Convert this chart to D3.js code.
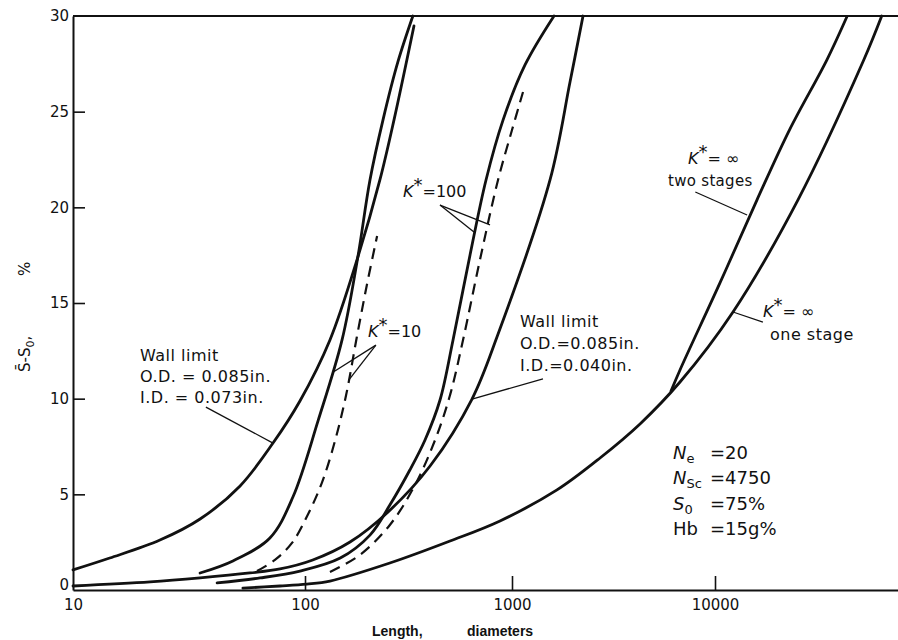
<!DOCTYPE html>
<html>
<head>
<meta charset="utf-8">
<script src="https://cdn.jsdelivr.net/npm/d3@7"></script>
<style>
  body { margin: 0; background: #fff; }
  svg { display: block; }
  text { font-family: "DejaVu Sans", sans-serif; fill: #111; }
</style>
</head>
<body>
<svg width="898" height="640"></svg>
<script>
// curves: [length in diameters, S-S0 in %]
var wall073 = [[10,1.05],[14.4,1.67],[23.7,2.61],[35.3,3.71],[52.5,5.44],[72.8,7.68],[95.1,9.88],
  [132,13.07],[180,17.4],[230,21.43],[269,24.56],[336,29.48]];
var k10 = [[35.3,0.89],[48.9,1.52],[70.6,2.72],[88.7,4.86],[116,8.89],[151,13.07],[180,17.4],
  [206,21.43],[238,24.56],[281,27.6],[332,30]];
var k10dash = [[62.1,0.99],[74.2,1.57],[87.9,2.46],[103,3.92],[121,5.64],[140,7.84],[158,10.19],
  [178,13.22],[199,15.94],[223,18.5]];
var wall040 = [[10,0.21],[21.5,0.42],[35.3,0.63],[57.9,0.89],[78,1.1],[109,1.57],[165,2.51],
  [252,4.08],[402,6.48],[641,9.98],[846,13.22],[1539,21.43],[1931,26.55],[2238,30]];
var k100 = [[41.8,0.37],[64,0.63],[95.1,0.99],[148,1.67],[206,2.87],[257,4.44],[321,6.27],
  [380,7.84],[449,9.93],[519,13.07],[627,17.51],[749,21.43],[905,24.56],[1159,27.44],[1610,30]];
var k100dash = [[132,0.94],[184,1.83],[257,3.4],[340,5.49],[425,7.84],[502,10.19],[580,13.07],
  [700,17.25],[856,21.43],[1000,24.04],[1133,26.03]];
var oneStage = [[54,0.1],[78,0.21],[102,0.31],[132,0.47],[257,1.41],[502,2.56],[875,3.61],
  [1666,5.23],[2714,6.9],[4272,8.68],[6723,10.87],[12270,14.53],[25640,20.38],[54200,27.7],[66480,30]];
var twoStage = [[6072,10.4],[6723,11.5],[10580,16.05],[16100,20.38],[23420,24.09],[35620,27.7],[44700,29.95]];

var xTicks = [10, 100, 1000, 10000];
var yTicks = [0, 5, 10, 15, 20, 25, 30];

// leader lines [from, to] in data units
var leaders = [
  [[37.4,9.56],[72.8,7.68]],
  [[220,12.8],[137,11.39]],
  [[220,12.8],[163,10.98]],
  [[449,20.12],[655,18.71]],
  [[449,20.12],[783,19.08]],
  [[1421,11.03],[641,9.98]],
  [[8000,20.8],[14400,19.6]],
  [[17240,14.0],[12270,14.53]]
];

var svg = d3.select("svg");

// the printed log axis is not evenly spaced, so the scale is piecewise
var x = d3.scaleLog()
  .domain([10, 100, 1000, 10000, 80000])
  .range([73, 305, 512, 715, 898]);
var y = d3.scaleLinear().domain([0, 30]).range([590, 16]);

var line = d3.line()
  .x(function(d){ return x(d[0]) })
  .y(function(d){ return y(d[1]) })
  .curve(d3.curveCatmullRom.alpha(0.5));

// axes
var xAxis = svg.append("g")
  .attr("transform", "translate(0,590)")
  .call(d3.axisBottom(x).tickValues(xTicks).tickFormat(d3.format("d"))
    .tickSizeInner(-14).tickSizeOuter(0).tickPadding(6));
var yAxis = svg.append("g")
  .attr("transform", "translate(73,0)")
  .call(d3.axisLeft(y).tickValues(yTicks).tickSizeInner(-12).tickSizeOuter(0).tickPadding(4));

[xAxis, yAxis].forEach(function(g){
  g.select(".domain").attr("stroke", "#111").attr("stroke-width", 2);
  g.selectAll(".tick line").attr("stroke", "#111").attr("stroke-width", 1.6);
  g.selectAll(".tick text").attr("font-size", 15).attr("fill", "#111")
    .style("font-family", "DejaVu Sans, sans-serif");
});
yAxis.selectAll(".tick").filter(function(d){ return d === 0 || d === 30 }).select("line").remove();
yAxis.selectAll(".tick").filter(function(d){ return d === 0 }).select("text").attr("dy", "-0.05em");
xAxis.selectAll(".tick").filter(function(d){ return d === 10 }).select("line").remove();
xAxis.selectAll(".tick text").attr("dy", "0.95em");

// top frame line
svg.append("line")
  .attr("x1", x(10)).attr("x2", 898)
  .attr("y1", y(30)).attr("y2", y(30))
  .attr("stroke", "#111").attr("stroke-width", 2);

// curves
var solid = [wall073, k10, wall040, k100, oneStage, twoStage];
var dashed = [k10dash, k100dash];

svg.append("g")
  .selectAll("path")
  .data(solid)
  .enter()
  .append("path")
    .attr("d", line)
    .attr("fill", "none")
    .attr("stroke", "#111")
    .attr("stroke-width", 2.8)
    .attr("stroke-linecap", "round");

svg.append("g")
  .selectAll("path")
  .data(dashed)
  .enter()
  .append("path")
    .attr("d", line)
    .attr("fill", "none")
    .attr("stroke", "#111")
    .attr("stroke-width", 2.2)
    .attr("stroke-dasharray", "11,7");

svg.append("g")
  .selectAll("line")
  .data(leaders)
  .enter()
  .append("line")
    .attr("x1", function(d){ return x(d[0][0]) })
    .attr("y1", function(d){ return y(d[0][1]) })
    .attr("x2", function(d){ return x(d[1][0]) })
    .attr("y2", function(d){ return y(d[1][1]) })
    .attr("stroke", "#111")
    .attr("stroke-width", 1.3);

// labels
function label(px, py, str, size) {
  return svg.append("text").attr("x", px).attr("y", py)
    .attr("font-size", size || 16).attr("letter-spacing", 0.5).text(str);
}
function kLabel(px, py, rest) {
  var t = svg.append("text").attr("x", px).attr("y", py).attr("font-size", 16);
  t.append("tspan").attr("font-style", "italic").text("K");
  t.append("tspan").attr("dy", -6).attr("font-size", 18).text("*");
  t.append("tspan").attr("dy", 6).text(rest);
  return t;
}

label(140, 361, "Wall limit");
label(140, 382, "O.D. = 0.085in.");
label(140, 403, "I.D. = 0.073in.");

label(520, 327, "Wall limit");
label(520, 349, "O.D.=0.085in.");
label(520, 371, "I.D.=0.040in.");

kLabel(368, 337, "=10");
kLabel(403, 197, "=100");
kLabel(688, 164, "= \u221e");
label(668, 186, "two stages", 15).attr("letter-spacing", 0.3);
kLabel(763, 317, "= \u221e");
label(770, 340, "one stage");

// parameter block
function param(py, main, sub, italic, rhs) {
  var t = svg.append("text").attr("x", 673).attr("y", py).attr("font-size", 18);
  t.append("tspan").attr("font-style", italic ? "italic" : "normal").text(main);
  if (sub) t.append("tspan").attr("dy", 4).attr("font-size", 13).text(sub);
  svg.append("text").attr("x", 710).attr("y", py).attr("font-size", 18).text(rhs);
}
param(459, "N", "e", true, "=20");
param(484, "N", "Sc", true, "=4750");
param(510, "S", "0", true, "=75%");
param(535, "Hb", "", false, "=15g%");

// axis titles
svg.append("text").attr("x", 372).attr("y", 636).attr("font-size", 14)
  .attr("font-weight", "bold").style("font-family", "Liberation Sans, sans-serif").text("Length,");
svg.append("text").attr("x", 467).attr("y", 636).attr("font-size", 14)
  .attr("font-weight", "bold").style("font-family", "Liberation Sans, sans-serif").text("diameters");

var yt = svg.append("text")
  .attr("transform", "translate(30,372) rotate(-90)")
  .attr("font-size", 15);
yt.append("tspan").text("S\u0304-S");
yt.append("tspan").attr("dy", 4).attr("font-size", 11).text("0");
yt.append("tspan").attr("dy", -4).text(",");
svg.append("text")
  .attr("transform", "translate(30,276) rotate(-90)")
  .attr("font-size", 15)
  .text("%");
</script>
</body>
</html>
